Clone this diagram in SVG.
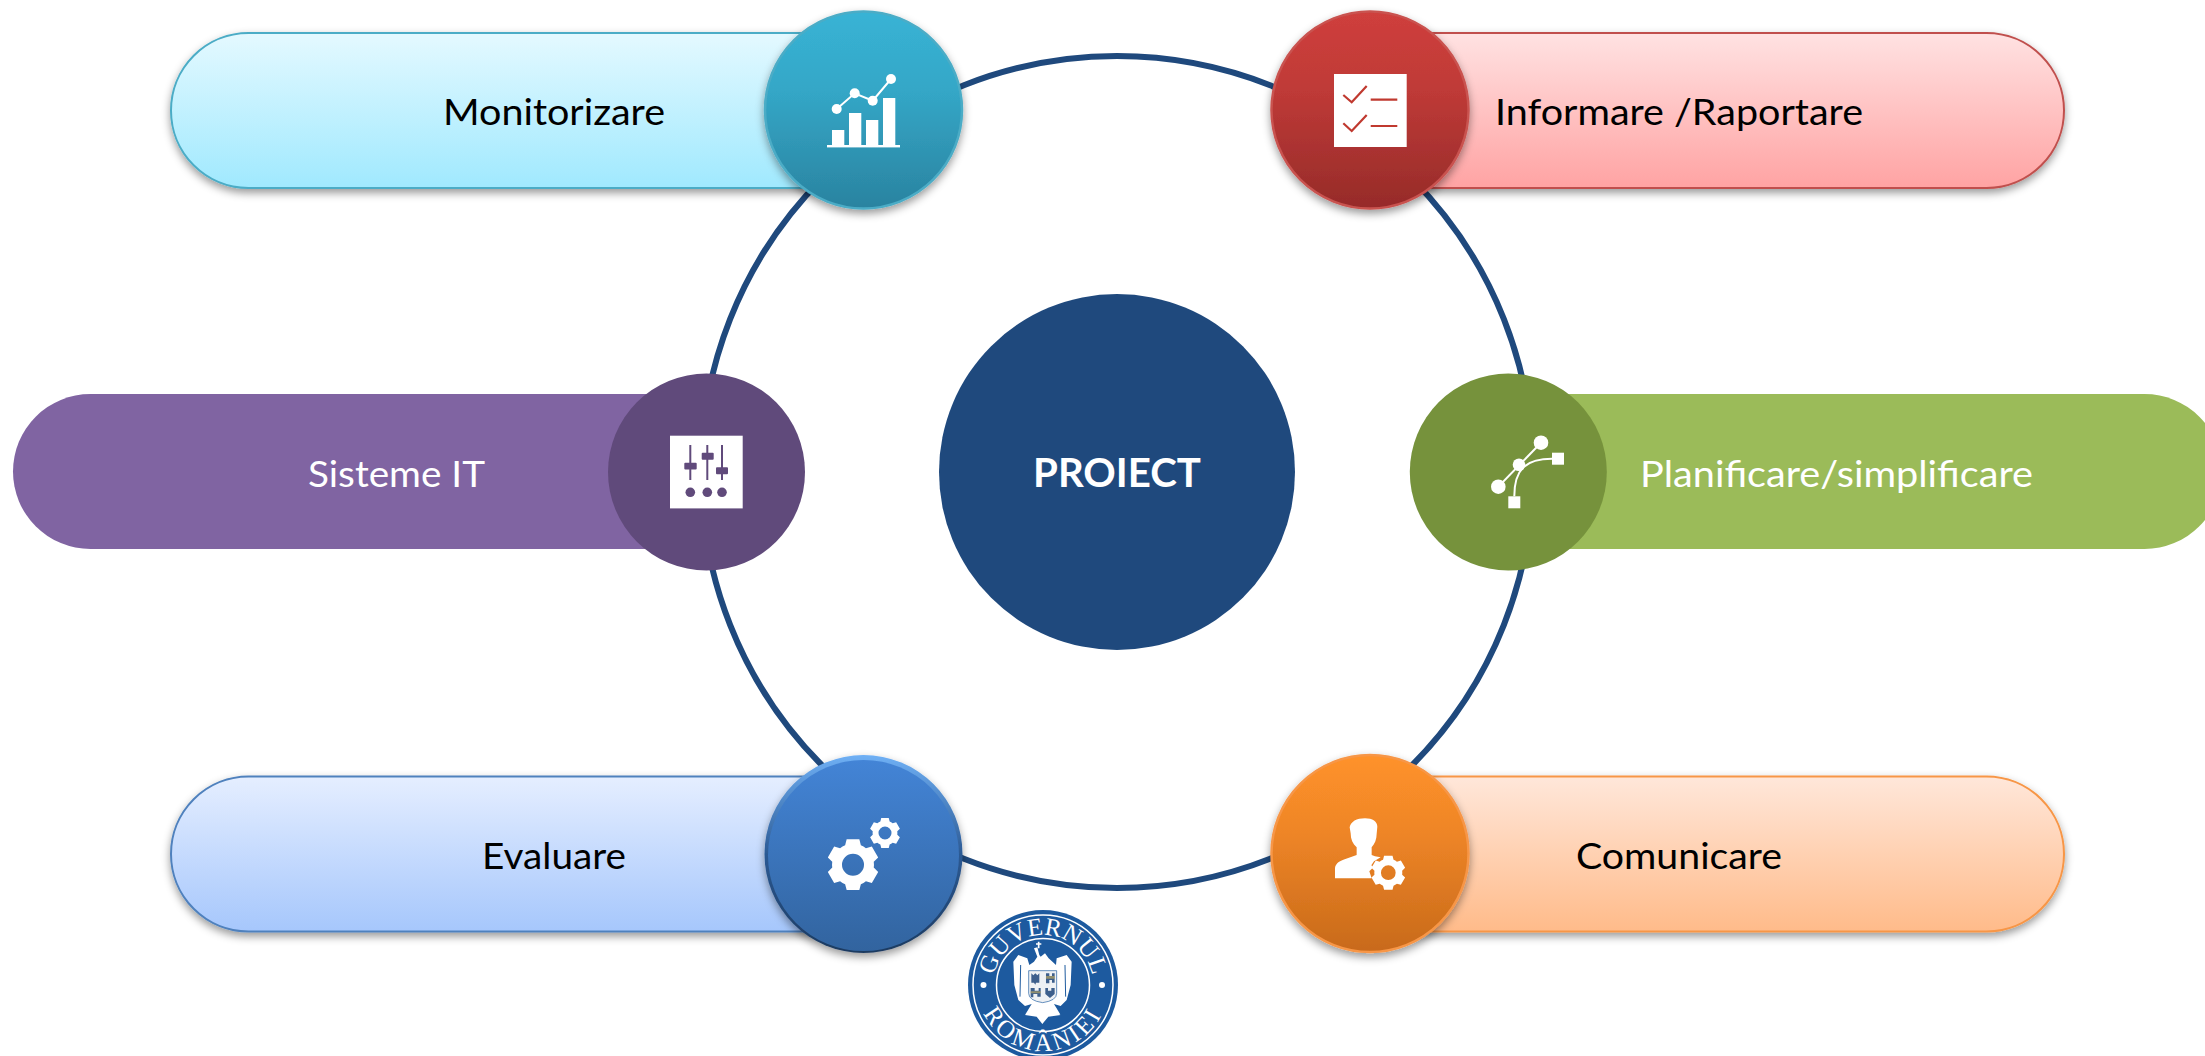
<svg xmlns="http://www.w3.org/2000/svg" xmlns:xlink="http://www.w3.org/1999/xlink" width="2205" height="1056" viewBox="0 0 2205 1056">
<style>
text{font-family:Lato,"Liberation Sans",sans-serif;font-size:37.5px;fill:#000}
.w{fill:#fff}
.pill{stroke-width:2}
.ic{fill:#fff}
.seal{font-family:"Liberation Serif",serif;font-size:25px;fill:#fff}
</style>
<defs>
<filter id="sh" x="-20%" y="-20%" width="140%" height="150%"><feDropShadow dx="0" dy="4" stdDeviation="4" flood-color="#000" flood-opacity=".4"/></filter>
<linearGradient id="pt" x1="0" y1="0" x2="0" y2="1"><stop offset="0" stop-color="#e4f9ff"/><stop offset="1" stop-color="#a0e9fe"/></linearGradient>
<linearGradient id="pr" x1="0" y1="0" x2="0" y2="1"><stop offset="0" stop-color="#ffe2e2"/><stop offset="1" stop-color="#ffa3a3"/></linearGradient>
<linearGradient id="pb" x1="0" y1="0" x2="0" y2="1"><stop offset="0" stop-color="#e5eeff"/><stop offset="1" stop-color="#a6c7fc"/></linearGradient>
<linearGradient id="po" x1="0" y1="0" x2="0" y2="1"><stop offset="0" stop-color="#ffe7da"/><stop offset="1" stop-color="#ffbb8a"/></linearGradient>
<linearGradient id="ct" x1="0" y1="0" x2="0" y2="1"><stop offset="0" stop-color="#38b3d5"/><stop offset=".4" stop-color="#34a7c7"/><stop offset="1" stop-color="#2a83a0"/></linearGradient>
<linearGradient id="cr" x1="0" y1="0" x2="0" y2="1"><stop offset="0" stop-color="#cf3f3c"/><stop offset=".4" stop-color="#bf3a37"/><stop offset="1" stop-color="#962b29"/></linearGradient>
<linearGradient id="cb" x1="0" y1="0" x2="0" y2="1"><stop offset="0" stop-color="#4384d6"/><stop offset="1" stop-color="#32649f"/></linearGradient>
<linearGradient id="cbe" x1="0" y1="0" x2="0" y2="1"><stop offset="0" stop-color="#6fb0f5"/><stop offset=".5" stop-color="#2c5a94"/><stop offset="1" stop-color="#1c3a60"/></linearGradient>
<linearGradient id="co" x1="0" y1="0" x2="0" y2="1"><stop offset="0" stop-color="#ff922a"/><stop offset=".4" stop-color="#ee8527"/><stop offset="1" stop-color="#c86a1a"/></linearGradient>
<path id="gear" fill-rule="evenodd" d="M-30-74.2L-24.2-97H24.2L30-74.2A80 80 0 0 1 49.3-63L71.9-69.5L96.1-27.6L79.2-11.1A80 80 0 0 1 79.2 11.1L96.1 27.6L71.9 69.5L49.3 63A80 80 0 0 1 30 74.2L24.2 97H-24.2L-30 74.2A80 80 0 0 1-49.3 63L-71.9 69.5L-96.1 27.6L-79.2 11.1A80 80 0 0 1-79.2-11.1L-96.1-27.6L-71.9-69.5L-49.3-63A80 80 0 0 1-30-74.2ZM42 0A42 42 0 1 0-42 0A42 42 0 1 0 42 0Z"/>
<path id="sealTopArc" d="M993 985A50 50 0 0 1 1093 985"/>
<path id="sealBot" d="M977 985A66 66 0 0 0 1109 985"/>
</defs>

<g id="connectors">
<circle cx="1117" cy="472" r="416" fill="none" stroke="#1f497d" stroke-width="6"/>
</g>

<g id="node-monitorizare">
<rect class="pill" x="171" y="33" width="760" height="155" rx="77.5" fill="url(#pt)" stroke="#4bacc6" filter="url(#sh)"/>
<text x="443" y="125" textLength="222" lengthAdjust="spacingAndGlyphs">Monitorizare</text>
<circle cx="863.5" cy="110" r="98.5" fill="url(#ct)" stroke="#4bacc6" stroke-width="2.5" filter="url(#sh)"/>
<g class="ic">
<rect x="827" y="145" width="73" height="2.4"/>
<rect x="832" y="130" width="12.3" height="15"/><rect x="849" y="113" width="12.3" height="32"/><rect x="866" y="120" width="12.3" height="25"/><rect x="883" y="98" width="12.3" height="47"/>
<polyline points="836.7,109 854.7,93.3 872.7,100.7 891,79" fill="none" stroke="#fff" stroke-width="2"/>
<circle cx="836.7" cy="109" r="5"/><circle cx="854.7" cy="93.3" r="5"/><circle cx="872.7" cy="100.7" r="5"/><circle cx="891" cy="79" r="5"/>
</g>
</g>

<g id="node-informare">
<rect class="pill" x="1304" y="33" width="760" height="155" rx="77.5" fill="url(#pr)" stroke="#c0504d" filter="url(#sh)"/>
<text x="1495" y="125" textLength="368" lengthAdjust="spacingAndGlyphs">Informare /Raportare</text>
<circle cx="1370" cy="110" r="98.5" fill="url(#cr)" stroke="#c9524f" stroke-width="2.5" filter="url(#sh)"/>
<rect class="ic" x="1334" y="74" width="72.7" height="73"/>
<path d="M1343.3 95L1351.7 102.3L1366.7 86M1370.7 99.7H1397.3M1343.3 123.3L1351.7 131L1366.7 115M1370.7 126H1397.3" fill="none" stroke="#c0392f" stroke-width="2.2"/>
</g>

<g id="node-sisteme">
<rect x="13" y="394" width="760" height="155" rx="77.5" fill="#8064a2"/>
<text class="w" x="308" y="487" textLength="177" lengthAdjust="spacingAndGlyphs">Sisteme IT</text>
<circle cx="706.5" cy="472" r="98.5" fill="#604a7b"/>
<rect class="ic" x="670" y="435.7" width="72.7" height="72.7"/>
<g fill="#604a7b">
<rect x="689.3" y="445" width="2" height="35"/><rect x="706.3" y="445" width="2" height="35"/><rect x="721" y="445" width="2" height="35"/>
<rect x="684.3" y="462.7" width="12.4" height="6.8" rx="1"/><rect x="701.7" y="452.7" width="12" height="7" rx="1"/><rect x="716" y="467.3" width="12" height="7" rx="1"/>
<circle cx="690.3" cy="492.3" r="4.8"/><circle cx="707.3" cy="492.3" r="4.8"/><circle cx="722" cy="492.3" r="4.8"/>
</g>
</g>

<g id="node-planificare">
<rect x="1442" y="394" width="780" height="155" rx="77.5" fill="#9bbb59"/>
<text class="w" x="1640" y="487" textLength="393" lengthAdjust="spacingAndGlyphs">Planificare/simplificare</text>
<circle cx="1508.3" cy="472" r="98.5" fill="#76923c"/>
<g class="ic">
<line x1="1498.3" y1="486.7" x2="1541" y2="442.7" stroke="#fff" stroke-width="2"/>
<circle cx="1541" cy="442.7" r="7.3"/><circle cx="1498.3" cy="486.7" r="7.3"/><circle cx="1519" cy="464.7" r="6.3"/>
<rect x="1552" y="452.7" width="12" height="12"/><rect x="1508.3" y="496.3" width="12" height="12"/>
<path d="M1514.3 496.3C1514.3 470 1525 458.7 1552 458.7" fill="none" stroke="#fff" stroke-width="2"/>
</g>
</g>

<g id="node-evaluare">
<rect class="pill" x="171" y="776.5" width="760" height="155" rx="77.5" fill="url(#pb)" stroke="#4f81bd" filter="url(#sh)"/>
<text x="482" y="869" textLength="144" lengthAdjust="spacingAndGlyphs">Evaluare</text>
<circle cx="863.5" cy="854" r="99" fill="url(#cbe)" filter="url(#sh)"/>
<circle cx="863.5" cy="855.5" r="95.5" fill="url(#cb)"/>
<use xlink:href="#gear" href="#gear" class="ic" transform="translate(853,864.7) scale(.262)"/>
<use xlink:href="#gear" href="#gear" class="ic" transform="translate(885,833) scale(.155)"/>
</g>

<g id="node-comunicare">
<rect class="pill" x="1304" y="776.5" width="760" height="155" rx="77.5" fill="url(#po)" stroke="#f79646" filter="url(#sh)"/>
<text x="1576" y="869" textLength="206" lengthAdjust="spacingAndGlyphs">Comunicare</text>
<circle cx="1370" cy="853.5" r="98.5" fill="url(#co)" stroke="#f79646" stroke-width="2.5" filter="url(#sh)"/>
<path class="ic" transform="translate(1260,740) scale(.3333)" d="M225 415V385C226 372 236 364 250 359L290 345V322C278 312 272 298 272 280L269 262C272 245 290 235 315 235C338 235 352 245 352 260L350 282C350 298 344 312 335 322V345L345 349L362 352L342 364L334 376L340 382L328 394L335 415Z"/>
<use xlink:href="#gear" href="#gear" class="ic" transform="translate(1388.3,872.7) scale(.175)"/>
</g>

<g id="node-proiect">
<circle cx="1117" cy="472" r="178" fill="#1f497d"/>
<text class="w" x="1033" y="487" style="font-size:40px" font-weight="700" textLength="168" lengthAdjust="spacingAndGlyphs">PROIECT</text>
</g>

<g id="logo">
<circle cx="1043" cy="985" r="75" fill="#1d5a9f"/>
<circle cx="1043" cy="985" r="70" fill="none" stroke="#fff" stroke-width="1.5"/>
<circle cx="1043" cy="985" r="46.5" fill="none" stroke="#fff" stroke-width="1.5"/>
<circle cx="983.5" cy="985" r="3" fill="#fff"/><circle cx="1102" cy="985" r="3" fill="#fff"/>
<text class="seal"><textPath href="#sealTopArc" startOffset="50%" text-anchor="middle">GUVERNUL</textPath></text>
<text class="seal" letter-spacing="3"><textPath href="#sealBot" startOffset="50%" text-anchor="middle">ROMÂNIEI</textPath></text>
<g transform="translate(950,890) scale(.3333)">
<path fill="#fff" d="M238 225L232 205L205 195L190 215L193 285L205 330L225 348L245 342L225 375L260 380L277 402L295 380L332 375L312 342L332 348L350 330L362 285L365 215L350 195L320 205L318 225L296 205L285 190L272 200L268 195L262 172L252 175L262 200L252 215Z"/>
<path fill="none" stroke="#fff" stroke-width="5" d="M266 155V175M258 162H274"/>
<path fill="none" stroke="#1d5a9f" stroke-width="3" d="M212 225L210 320M345 225L347 320M200 335L225 375M355 335L330 375"/>
<path fill="#eef1f4" stroke="#1d5a9f" stroke-width="2" d="M236 242H320V310Q320 332 278 338Q236 332 236 310Z"/>
<g fill="#3d5f8c">
<path d="M244 250L250 256L256 250L262 256L268 250V278H258L256 284L252 278H244Z"/>
<path d="M288 250H298V258H306V250H314V278H306V270H298V280H288Z"/>
<path d="M242 294H254V302H266V294H272V320H262V312H250V322H242Z"/>
<path d="M286 294H294V302H304V294H314V312L300 324L286 312Z"/>
</g>
<path fill="#c8ad5a" opacity=".6" d="M288 258H314V266H288ZM242 304H272V310H242Z"/>
</g>
</g>
</svg>
